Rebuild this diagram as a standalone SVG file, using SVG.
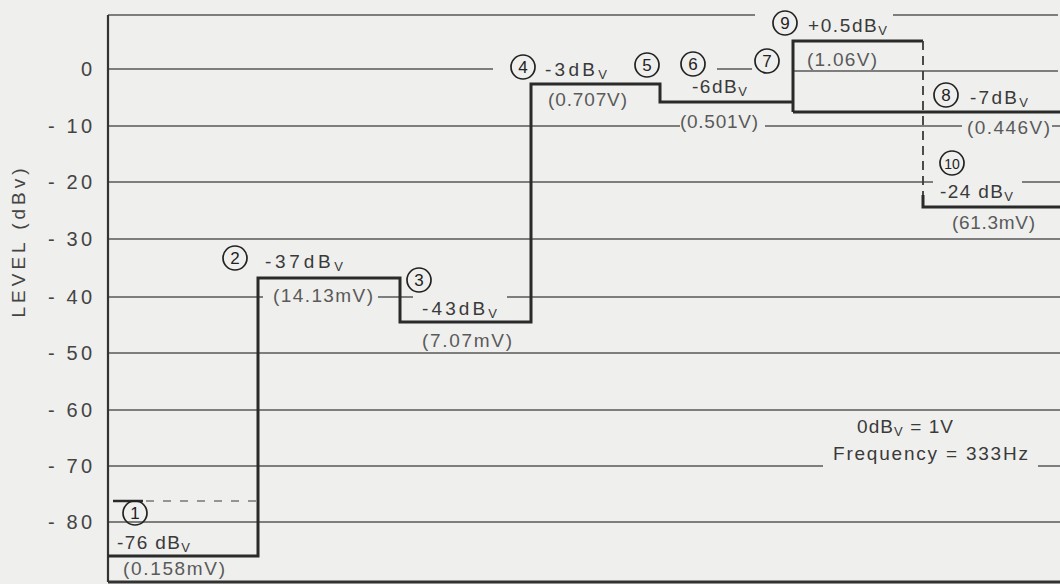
<svg xmlns="http://www.w3.org/2000/svg" width="1060" height="584" viewBox="0 0 1060 584">
<style>
.bg{fill:#efefed}
.grid{stroke:#5a5a5a;stroke-width:1.5;fill:none}
.frame{stroke:#333;stroke-width:2.2;fill:none}
.trace{stroke:#2a2a2a;stroke-width:3;fill:none}
.dash{stroke:#3a3a3a;stroke-width:1.8;fill:none;stroke-dasharray:9 6}
.dash2{stroke:#777;stroke-width:1.5;fill:none;stroke-dasharray:8 9}
text{font-family:"Liberation Sans",Arial,sans-serif;font-size:19px;fill:#3a3a3a}
.lt{fill:#5a5a5a}
.num{font-size:17px;text-anchor:middle;fill:#222}
.tick{text-anchor:end;font-size:20px;fill:#444}
circle.c{fill:none;stroke:#222;stroke-width:1.7}
.sub{font-size:13px}
</style>
<rect class="bg" x="0" y="0" width="1060" height="584"/>

<g id="grid">
<path class="grid" d="M108,15 H755 M893,15 H1058
M108,69 H493 M717,69 H752 M793,71 H1058
M108,126 H680 M765,126 H962 M1052,126 H1060
M108,182 H933 M1022,182 H1060
M108,239 H1060
M108,297 H263 M378,297 H413 M507,297 H1060
M108,353 H1060
M108,410 H1060
M108,466 H823 M1038,466 H1060
M108,522 H1060"/>
<path class="frame" d="M108,15 V582"/>
<path class="frame" style="stroke-width:3" d="M108,582 H1060"/>
</g>

<g id="axis">
<text x="25" y="243" transform="rotate(-90 25 243)" text-anchor="middle" textLength="149" lengthAdjust="spacing" style="font-size:19px;fill:#444">LEVEL (dBv)</text>
<text class="tick" x="92" y="76">0</text>
<text class="tick" x="92" y="133" textLength="44" lengthAdjust="spacing">- 10</text>
<text class="tick" x="92" y="189" textLength="44" lengthAdjust="spacing">- 20</text>
<text class="tick" x="92" y="246" textLength="44" lengthAdjust="spacing">- 30</text>
<text class="tick" x="92" y="304" textLength="44" lengthAdjust="spacing">- 40</text>
<text class="tick" x="92" y="360" textLength="44" lengthAdjust="spacing">- 50</text>
<text class="tick" x="92" y="417" textLength="44" lengthAdjust="spacing">- 60</text>
<text class="tick" x="92" y="473" textLength="44" lengthAdjust="spacing">- 70</text>
<text class="tick" x="92" y="529" textLength="44" lengthAdjust="spacing">- 80</text>
</g>

<g id="connectors">
<path class="trace" d="M108,556 H258 V278 H400 V322 H531 V84 H660 V102 H793"/>
<path class="trace" d="M793,112 V41 H923"/>
<path class="trace" d="M793,112 H1060"/>
<path class="trace" d="M923,195 V207 H1060"/>
<path class="dash" d="M923,41 V195"/>
<path class="trace" style="stroke-width:2.5" d="M113,501 H143"/>
<path class="dash2" d="M146,501 H257"/>
</g>

<g id="n1">
<circle class="c" cx="135" cy="513" r="12"/><text class="num" x="135" y="519">1</text>
<text x="117" y="549" textLength="73" lengthAdjust="spacing">-76 dB<tspan class="sub" dy="3">V</tspan></text>
<text class="lt" x="123" y="575" textLength="102" lengthAdjust="spacing">(0.158mV)</text>
</g>
<g id="n2">
<circle class="c" cx="235" cy="258" r="12"/><text class="num" x="235" y="264">2</text>
<text x="265" y="268" textLength="78" lengthAdjust="spacing">-37dB<tspan class="sub" dy="3">V</tspan></text>
<text class="lt" x="273" y="302" textLength="100" lengthAdjust="spacing">(14.13mV)</text>
</g>
<g id="n3">
<circle class="c" cx="419" cy="280" r="12"/><text class="num" x="419" y="286">3</text>
<text x="422" y="315" textLength="75" lengthAdjust="spacing">-43dB<tspan class="sub" dy="3">V</tspan></text>
<text class="lt" x="422" y="347" textLength="90" lengthAdjust="spacing">(7.07mV)</text>
</g>
<g id="n4">
<circle class="c" cx="523" cy="67" r="12"/><text class="num" x="523" y="73">4</text>
<text x="545" y="76" textLength="62" lengthAdjust="spacing">-3dB<tspan class="sub" dy="3">V</tspan></text>
<text class="lt" x="548" y="106" textLength="79" lengthAdjust="spacing">(0.707V)</text>
</g>
<g id="n5">
<circle class="c" cx="647" cy="65" r="12"/><text class="num" x="647" y="71">5</text>
</g>
<g id="n6">
<circle class="c" cx="693" cy="64" r="12"/><text class="num" x="693" y="70">6</text>
<text x="692" y="93" textLength="55" lengthAdjust="spacing">-6dB<tspan class="sub" dy="3">V</tspan></text>
<text class="lt" x="680" y="128" textLength="78" lengthAdjust="spacing">(0.501V)</text>
</g>
<g id="n7">
<circle class="c" cx="767" cy="61" r="12"/><text class="num" x="767" y="67">7</text>
</g>
<g id="n9">
<circle class="c" cx="785" cy="23" r="12"/><text class="num" x="785" y="29">9</text>
<text x="808" y="32" textLength="79" lengthAdjust="spacing">+0.5dB<tspan class="sub" dy="3">V</tspan></text>
<text class="lt" x="807" y="66" textLength="70" lengthAdjust="spacing">(1.06V)</text>
</g>
<g id="n8">
<circle class="c" cx="946" cy="95" r="12"/><text class="num" x="946" y="101">8</text>
<text x="970" y="104" textLength="58" lengthAdjust="spacing">-7dB<tspan class="sub" dy="3">V</tspan></text>
<text class="lt" x="967" y="134" textLength="83" lengthAdjust="spacing">(0.446V)</text>
</g>
<g id="n10">
<circle class="c" cx="952" cy="163" r="12"/><text class="num" x="952" y="169" style="font-size:14px">10</text>
<text x="940" y="198" textLength="73" lengthAdjust="spacing">-24 dB<tspan class="sub" dy="3">V</tspan></text>
<text class="lt" x="952" y="229" textLength="83" lengthAdjust="spacing">(61.3mV)</text>
</g>
<g id="note">
<text x="857" y="433" textLength="96" lengthAdjust="spacing">0dB<tspan class="sub" dy="3">V</tspan><tspan dy="-3"> = 1V</tspan></text>
<text x="833" y="460" textLength="195" lengthAdjust="spacing">Frequency = 333Hz</text>
</g>
</svg>
